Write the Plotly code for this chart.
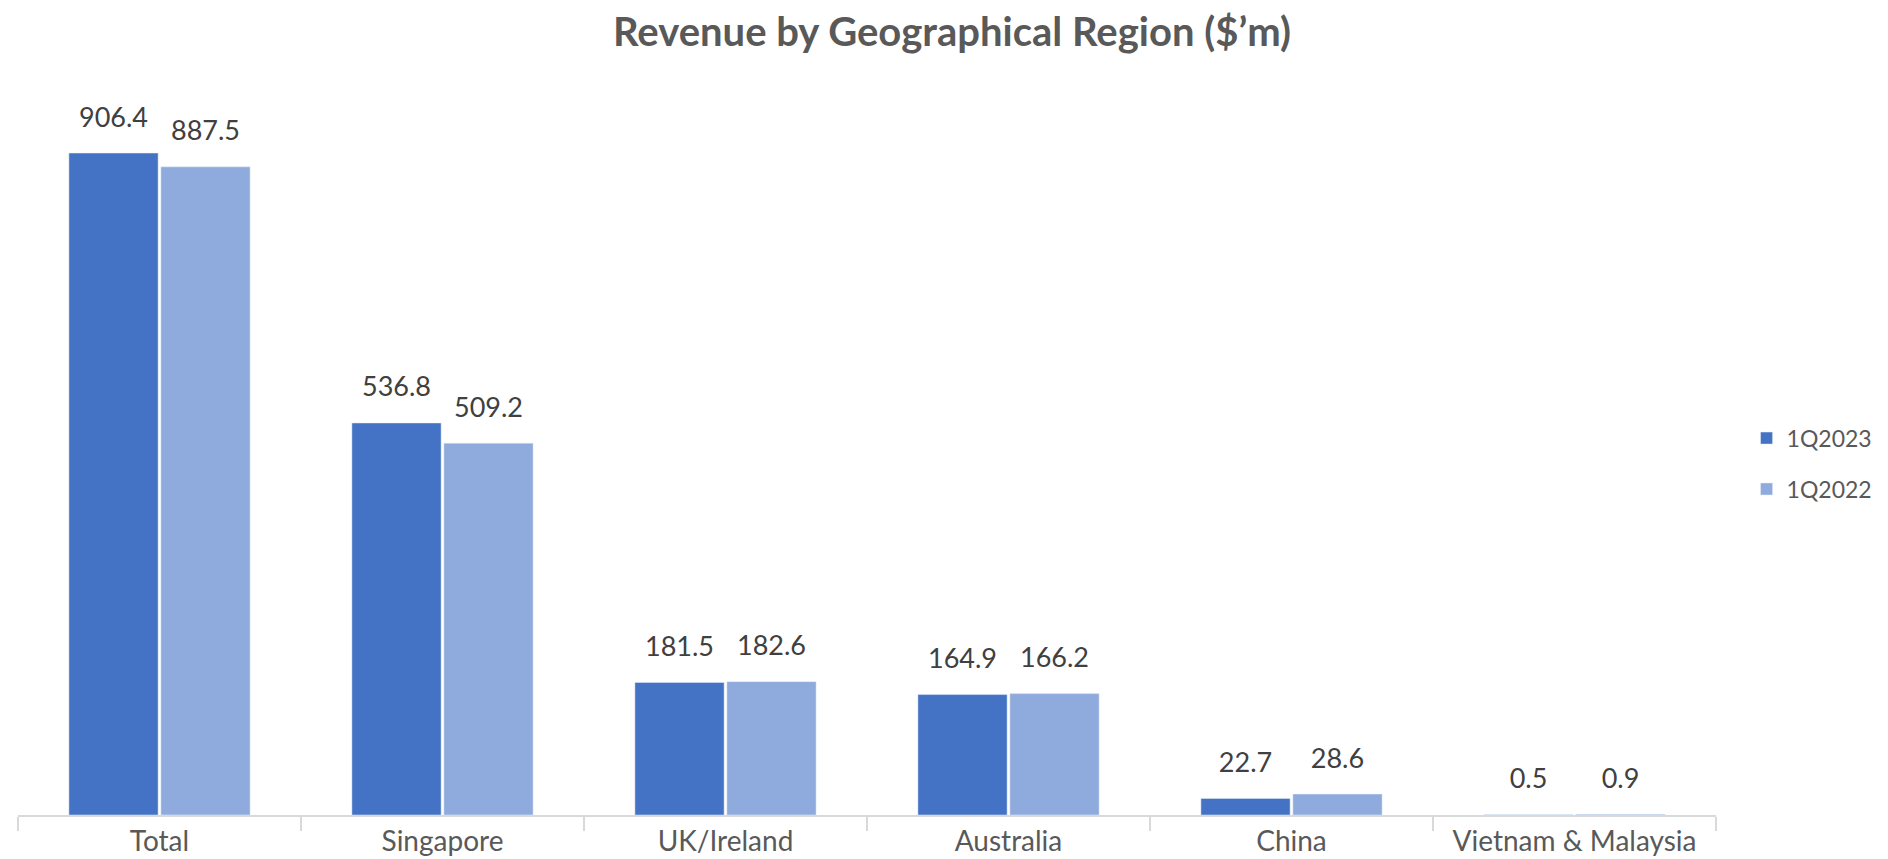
import plotly.graph_objects as go

categories = ["Total", "Singapore", "UK/Ireland", "Australia", "China", "Vietnam & Malaysia"]
rev_1q2023 = [906.4, 536.8, 181.5, 164.9, 22.7, 0.5]
rev_1q2022 = [887.5, 509.2, 182.6, 166.2, 28.6, 0.9]
series_names = ["1Q2023", "1Q2022"]
colors = ["#4472C4", "#8FAADC"]

FONT = "Lato, Open Sans, sans-serif"
GAP = 0.35

fig = go.Figure()
for i, (name, vals, col) in enumerate(zip(series_names, [rev_1q2023, rev_1q2022], colors)):
    fig.add_trace(go.Bar(
        x=categories, y=vals, name=name, marker_color=col,
        legendgroup=name, offsetgroup=str(i),
    ))
for i, (name, vals) in enumerate(zip(series_names, [rev_1q2023, rev_1q2022])):
    fig.add_trace(go.Scatter(
        x=categories, y=vals, mode="markers+text", showlegend=False,
        offsetgroup=str(i), hoverinfo="skip",
        marker=dict(size=30, color="rgba(0,0,0,0)"),
        text=[f"{v:.1f}" for v in vals], textposition="top center",
        textfont=dict(size=27, color="#404040", family=FONT),
        cliponaxis=False,
    ))

fig.update_layout(
    width=1888, height=859,
    paper_bgcolor="white", plot_bgcolor="white",
    barmode="group", bargap=GAP, bargroupgap=0.03,
    scattermode="group", scattergap=GAP,
    margin=dict(l=10, r=180, t=84, b=40),
    title=dict(text="<b>Revenue by Geographical Region ($’m)</b>", x=0.5, xanchor="center",
               y=0.972, yanchor="middle",
               font=dict(size=40, color="#595959", family=FONT)),
    xaxis=dict(showline=True, linecolor="#D9D9D9", linewidth=2,
               ticks="outside", tickson="boundaries", ticklen=14, tickcolor="#D9D9D9", tickwidth=2,
               tickfont=dict(size=28, color="#595959", family=FONT)),
    yaxis=dict(range=[0, 990], visible=False, showgrid=False),
    legend=dict(x=1.018, xanchor="left", y=0.486, yanchor="middle",
                font=dict(size=23, color="#595959", family=FONT),
                itemwidth=30, tracegroupgap=18),
    showlegend=True,
)

fig.write_html("out.html")
